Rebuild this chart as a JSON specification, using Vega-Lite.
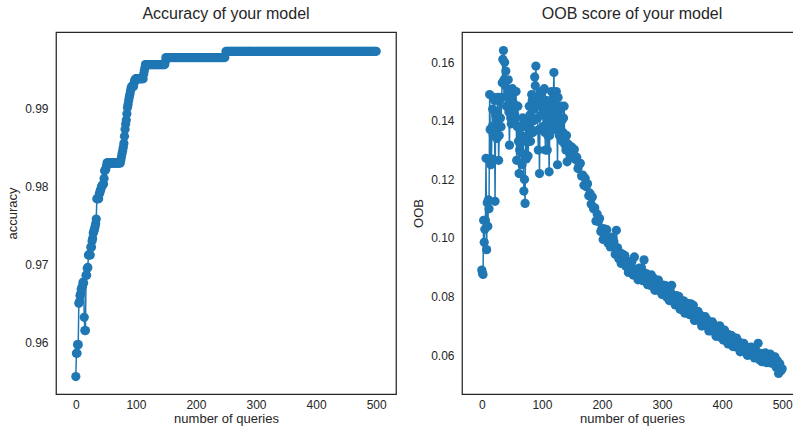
{
  "$schema": "https://vega.github.io/schema/vega-lite/v6.json",
  "padding": {"left": 6, "top": 5, "right": 0, "bottom": 0},
  "background": "white",
  "bounds": "flush",
  "spacing": 66,
  "data": {
    "values": [
      {"q": 0, "acc": 0.9556, "oob": 0.0890}, {"q": 1, "acc": 0.9586, "oob": 0.0880}, {"q": 2, "acc": 0.9586, "oob": 0.0875},
      {"q": 3, "acc": 0.9597, "oob": 0.1060}, {"q": 4, "acc": 0.9597, "oob": 0.0985}, {"q": 5, "acc": 0.9650, "oob": 0.1030},
      {"q": 6, "acc": 0.9652, "oob": 0.1060}, {"q": 7, "acc": 0.9660, "oob": 0.1272}, {"q": 8, "acc": 0.9662, "oob": 0.0960},
      {"q": 9, "acc": 0.9668, "oob": 0.1120}, {"q": 10, "acc": 0.9670, "oob": 0.1040}, {"q": 11, "acc": 0.9672, "oob": 0.1130},
      {"q": 12, "acc": 0.9677, "oob": 0.1100}, {"q": 13, "acc": 0.9676, "oob": 0.1490}, {"q": 14, "acc": 0.9632, "oob": 0.1370},
      {"q": 15, "acc": 0.9615, "oob": 0.1250}, {"q": 16, "acc": 0.9615, "oob": 0.1270}, {"q": 17, "acc": 0.9686, "oob": 0.1380},
      {"q": 18, "acc": 0.9686, "oob": 0.1440}, {"q": 19, "acc": 0.9695, "oob": 0.1350}, {"q": 20, "acc": 0.9696, "oob": 0.1480},
      {"q": 21, "acc": 0.9712, "oob": 0.1470}, {"q": 22, "acc": 0.9712, "oob": 0.1125}, {"q": 23, "acc": 0.9712, "oob": 0.1420},
      {"q": 24, "acc": 0.9712, "oob": 0.1410}, {"q": 25, "acc": 0.9722, "oob": 0.1340}, {"q": 26, "acc": 0.9722, "oob": 0.1470},
      {"q": 27, "acc": 0.9730, "oob": 0.1480}, {"q": 28, "acc": 0.9733, "oob": 0.1265}, {"q": 29, "acc": 0.9740, "oob": 0.1350},
      {"q": 30, "acc": 0.9742, "oob": 0.1470}, {"q": 31, "acc": 0.9745, "oob": 0.1410}, {"q": 32, "acc": 0.9748, "oob": 0.1380},
      {"q": 33, "acc": 0.9752, "oob": 0.1480}, {"q": 34, "acc": 0.9758, "oob": 0.1530}, {"q": 35, "acc": 0.9784, "oob": 0.1610},
      {"q": 36, "acc": 0.9784, "oob": 0.1640}, {"q": 37, "acc": 0.9784, "oob": 0.1540}, {"q": 38, "acc": 0.9784, "oob": 0.1600},
      {"q": 39, "acc": 0.9790, "oob": 0.1520}, {"q": 40, "acc": 0.9792, "oob": 0.1570}, {"q": 41, "acc": 0.9795, "oob": 0.1450},
      {"q": 42, "acc": 0.9797, "oob": 0.1480}, {"q": 43, "acc": 0.9800, "oob": 0.1500}, {"q": 44, "acc": 0.9801, "oob": 0.1540},
      {"q": 45, "acc": 0.9802, "oob": 0.1430}, {"q": 46, "acc": 0.9803, "oob": 0.1317}, {"q": 47, "acc": 0.9810, "oob": 0.1470},
      {"q": 48, "acc": 0.9820, "oob": 0.1410}, {"q": 49, "acc": 0.9821, "oob": 0.1390}, {"q": 50, "acc": 0.9822, "oob": 0.1490},
      {"q": 51, "acc": 0.9826, "oob": 0.1510}, {"q": 52, "acc": 0.9830, "oob": 0.1440}, {"q": 53, "acc": 0.9830, "oob": 0.1460},
      {"q": 54, "acc": 0.9830, "oob": 0.1500}, {"q": 55, "acc": 0.9830, "oob": 0.1420}, {"q": 56, "acc": 0.9830, "oob": 0.1390},
      {"q": 57, "acc": 0.9830, "oob": 0.1500}, {"q": 58, "acc": 0.9830, "oob": 0.1265}, {"q": 59, "acc": 0.9830, "oob": 0.1380},
      {"q": 60, "acc": 0.9830, "oob": 0.1450}, {"q": 61, "acc": 0.9830, "oob": 0.1330}, {"q": 62, "acc": 0.9830, "oob": 0.1220},
      {"q": 63, "acc": 0.9830, "oob": 0.1300}, {"q": 64, "acc": 0.9830, "oob": 0.1380}, {"q": 65, "acc": 0.9830, "oob": 0.1350},
      {"q": 66, "acc": 0.9830, "oob": 0.1290}, {"q": 67, "acc": 0.9830, "oob": 0.1250}, {"q": 68, "acc": 0.9830, "oob": 0.1410},
      {"q": 69, "acc": 0.9830, "oob": 0.1330}, {"q": 70, "acc": 0.9830, "oob": 0.1160}, {"q": 71, "acc": 0.9830, "oob": 0.1200},
      {"q": 72, "acc": 0.9830, "oob": 0.1118}, {"q": 73, "acc": 0.9830, "oob": 0.1380}, {"q": 74, "acc": 0.9830, "oob": 0.1270},
      {"q": 75, "acc": 0.9834, "oob": 0.1400}, {"q": 76, "acc": 0.9838, "oob": 0.1350}, {"q": 77, "acc": 0.9842, "oob": 0.1280},
      {"q": 78, "acc": 0.9846, "oob": 0.1330}, {"q": 79, "acc": 0.9850, "oob": 0.1450}, {"q": 80, "acc": 0.9855, "oob": 0.1420},
      {"q": 81, "acc": 0.9864, "oob": 0.1330}, {"q": 82, "acc": 0.9873, "oob": 0.1370}, {"q": 83, "acc": 0.9880, "oob": 0.1490},
      {"q": 84, "acc": 0.9885, "oob": 0.1470}, {"q": 85, "acc": 0.9893, "oob": 0.1360}, {"q": 86, "acc": 0.9901, "oob": 0.1400},
      {"q": 87, "acc": 0.9905, "oob": 0.1440}, {"q": 88, "acc": 0.9910, "oob": 0.1550}, {"q": 89, "acc": 0.9914, "oob": 0.1520},
      {"q": 90, "acc": 0.9918, "oob": 0.1587}, {"q": 91, "acc": 0.9922, "oob": 0.1480}, {"q": 92, "acc": 0.9926, "oob": 0.1450},
      {"q": 93, "acc": 0.9928, "oob": 0.1410}, {"q": 94, "acc": 0.9928, "oob": 0.1300}, {"q": 95, "acc": 0.9928, "oob": 0.1370},
      {"q": 96, "acc": 0.9928, "oob": 0.1220}, {"q": 97, "acc": 0.9932, "oob": 0.1460}, {"q": 98, "acc": 0.9936, "oob": 0.1500},
      {"q": 99, "acc": 0.9937, "oob": 0.1420}, {"q": 100, "acc": 0.9938, "oob": 0.1480}, {"q": 101, "acc": 0.9938, "oob": 0.1500},
      {"q": 102, "acc": 0.9938, "oob": 0.1380}, {"q": 103, "acc": 0.9938, "oob": 0.1430}, {"q": 104, "acc": 0.9938, "oob": 0.1510},
      {"q": 105, "acc": 0.9938, "oob": 0.1360}, {"q": 106, "acc": 0.9938, "oob": 0.1300}, {"q": 107, "acc": 0.9938, "oob": 0.1470},
      {"q": 108, "acc": 0.9938, "oob": 0.1440}, {"q": 109, "acc": 0.9938, "oob": 0.1300}, {"q": 110, "acc": 0.9938, "oob": 0.1350},
      {"q": 111, "acc": 0.9938, "oob": 0.1420}, {"q": 112, "acc": 0.9938, "oob": 0.1226}, {"q": 113, "acc": 0.9944, "oob": 0.1350},
      {"q": 114, "acc": 0.9948, "oob": 0.1400}, {"q": 115, "acc": 0.9952, "oob": 0.1460}, {"q": 116, "acc": 0.9956, "oob": 0.1500},
      {"q": 117, "acc": 0.9956, "oob": 0.1420}, {"q": 118, "acc": 0.9956, "oob": 0.1380}, {"q": 119, "acc": 0.9956, "oob": 0.1480},
      {"q": 120, "acc": 0.9956, "oob": 0.1565}, {"q": 121, "acc": 0.9956, "oob": 0.1450}, {"q": 122, "acc": 0.9956, "oob": 0.1400},
      {"q": 123, "acc": 0.9956, "oob": 0.1370}, {"q": 124, "acc": 0.9956, "oob": 0.1500}, {"q": 125, "acc": 0.9956, "oob": 0.1420},
      {"q": 126, "acc": 0.9956, "oob": 0.1250}, {"q": 127, "acc": 0.9956, "oob": 0.1480}, {"q": 128, "acc": 0.9956, "oob": 0.1440},
      {"q": 129, "acc": 0.9956, "oob": 0.1350}, {"q": 130, "acc": 0.9956, "oob": 0.1380}, {"q": 131, "acc": 0.9956, "oob": 0.1440},
      {"q": 132, "acc": 0.9956, "oob": 0.1450}, {"q": 133, "acc": 0.9956, "oob": 0.1400}, {"q": 134, "acc": 0.9956, "oob": 0.1330},
      {"q": 135, "acc": 0.9956, "oob": 0.1360}, {"q": 136, "acc": 0.9956, "oob": 0.1410}, {"q": 137, "acc": 0.9956, "oob": 0.1450},
      {"q": 138, "acc": 0.9956, "oob": 0.1320}, {"q": 139, "acc": 0.9956, "oob": 0.1330}, {"q": 140, "acc": 0.9956, "oob": 0.1300},
      {"q": 141, "acc": 0.9956, "oob": 0.1350}, {"q": 142, "acc": 0.9956, "oob": 0.1260}, {"q": 143, "acc": 0.9956, "oob": 0.1300},
      {"q": 144, "acc": 0.9956, "oob": 0.1320}, {"q": 145, "acc": 0.9956, "oob": 0.1310}, {"q": 146, "acc": 0.9956, "oob": 0.1290},
      {"q": 147, "acc": 0.9956, "oob": 0.1280}, {"q": 148, "acc": 0.9956, "oob": 0.1310}, {"q": 149, "acc": 0.9960, "oob": 0.1300},
      {"q": 150, "acc": 0.9965, "oob": 0.1310}, {"q": 152, "acc": 0.9965, "oob": 0.1276}, {"q": 154, "acc": 0.9965, "oob": 0.1302},
      {"q": 156, "acc": 0.9965, "oob": 0.1268}, {"q": 158, "acc": 0.9965, "oob": 0.1276}, {"q": 160, "acc": 0.9965, "oob": 0.1237},
      {"q": 162, "acc": 0.9965, "oob": 0.1250}, {"q": 164, "acc": 0.9965, "oob": 0.1255}, {"q": 166, "acc": 0.9965, "oob": 0.1212},
      {"q": 168, "acc": 0.9965, "oob": 0.1215}, {"q": 170, "acc": 0.9965, "oob": 0.1180}, {"q": 172, "acc": 0.9965, "oob": 0.1204},
      {"q": 174, "acc": 0.9965, "oob": 0.1175}, {"q": 176, "acc": 0.9965, "oob": 0.1185}, {"q": 178, "acc": 0.9965, "oob": 0.1144},
      {"q": 180, "acc": 0.9965, "oob": 0.1153}, {"q": 182, "acc": 0.9965, "oob": 0.1116}, {"q": 184, "acc": 0.9965, "oob": 0.1140},
      {"q": 186, "acc": 0.9965, "oob": 0.1100}, {"q": 188, "acc": 0.9965, "oob": 0.1103}, {"q": 190, "acc": 0.9965, "oob": 0.1058},
      {"q": 192, "acc": 0.9965, "oob": 0.1082}, {"q": 194, "acc": 0.9965, "oob": 0.1056}, {"q": 196, "acc": 0.9965, "oob": 0.1066},
      {"q": 198, "acc": 0.9965, "oob": 0.1022}, {"q": 200, "acc": 0.9965, "oob": 0.1032}, {"q": 202, "acc": 0.9965, "oob": 0.0995},
      {"q": 204, "acc": 0.9965, "oob": 0.1031}, {"q": 206, "acc": 0.9965, "oob": 0.1001}, {"q": 208, "acc": 0.9965, "oob": 0.1028},
      {"q": 210, "acc": 0.9965, "oob": 0.0983}, {"q": 212, "acc": 0.9965, "oob": 0.0999}, {"q": 214, "acc": 0.9965, "oob": 0.0969},
      {"q": 216, "acc": 0.9965, "oob": 0.1003}, {"q": 218, "acc": 0.9965, "oob": 0.0975}, {"q": 220, "acc": 0.9965, "oob": 0.0986},
      {"q": 222, "acc": 0.9965, "oob": 0.0944}, {"q": 224, "acc": 0.9965, "oob": 0.1026}, {"q": 226, "acc": 0.9965, "oob": 0.0966},
      {"q": 228, "acc": 0.9965, "oob": 0.0929}, {"q": 230, "acc": 0.9965, "oob": 0.0949}, {"q": 232, "acc": 0.9965, "oob": 0.0913},
      {"q": 234, "acc": 0.9965, "oob": 0.0945}, {"q": 236, "acc": 0.9965, "oob": 0.0918}, {"q": 238, "acc": 0.9965, "oob": 0.0940},
      {"q": 240, "acc": 0.9965, "oob": 0.0902}, {"q": 242, "acc": 0.9965, "oob": 0.0917}, {"q": 244, "acc": 0.9965, "oob": 0.0882},
      {"q": 246, "acc": 0.9965, "oob": 0.0920}, {"q": 248, "acc": 0.9965, "oob": 0.0895}, {"q": 250, "acc": 0.9973, "oob": 0.0921},
      {"q": 252, "acc": 0.9973, "oob": 0.0873}, {"q": 254, "acc": 0.9973, "oob": 0.0935}, {"q": 256, "acc": 0.9973, "oob": 0.0875},
      {"q": 258, "acc": 0.9973, "oob": 0.0891}, {"q": 260, "acc": 0.9973, "oob": 0.0857}, {"q": 262, "acc": 0.9973, "oob": 0.0897},
      {"q": 264, "acc": 0.9973, "oob": 0.0869}, {"q": 266, "acc": 0.9973, "oob": 0.0897}, {"q": 268, "acc": 0.9973, "oob": 0.0854},
      {"q": 270, "acc": 0.9973, "oob": 0.0925}, {"q": 272, "acc": 0.9973, "oob": 0.0855}, {"q": 274, "acc": 0.9973, "oob": 0.0878},
      {"q": 276, "acc": 0.9973, "oob": 0.0840}, {"q": 278, "acc": 0.9973, "oob": 0.0867}, {"q": 280, "acc": 0.9973, "oob": 0.0838},
      {"q": 282, "acc": 0.9973, "oob": 0.0874}, {"q": 284, "acc": 0.9973, "oob": 0.0842}, {"q": 286, "acc": 0.9973, "oob": 0.0863},
      {"q": 288, "acc": 0.9973, "oob": 0.0821}, {"q": 290, "acc": 0.9973, "oob": 0.0852}, {"q": 292, "acc": 0.9973, "oob": 0.0834},
      {"q": 294, "acc": 0.9973, "oob": 0.0856}, {"q": 296, "acc": 0.9973, "oob": 0.0819}, {"q": 298, "acc": 0.9973, "oob": 0.0838},
      {"q": 300, "acc": 0.9973, "oob": 0.0807}, {"q": 302, "acc": 0.9973, "oob": 0.0839}, {"q": 304, "acc": 0.9973, "oob": 0.0819},
      {"q": 306, "acc": 0.9973, "oob": 0.0837}, {"q": 308, "acc": 0.9973, "oob": 0.0797}, {"q": 310, "acc": 0.9973, "oob": 0.0817},
      {"q": 312, "acc": 0.9973, "oob": 0.0786}, {"q": 314, "acc": 0.9973, "oob": 0.0817}, {"q": 316, "acc": 0.9973, "oob": 0.0838},
      {"q": 318, "acc": 0.9973, "oob": 0.0784}, {"q": 320, "acc": 0.9973, "oob": 0.0803}, {"q": 322, "acc": 0.9973, "oob": 0.0771},
      {"q": 324, "acc": 0.9973, "oob": 0.0803}, {"q": 326, "acc": 0.9973, "oob": 0.0776}, {"q": 328, "acc": 0.9973, "oob": 0.0800},
      {"q": 330, "acc": 0.9973, "oob": 0.0756}, {"q": 332, "acc": 0.9973, "oob": 0.0778}, {"q": 334, "acc": 0.9973, "oob": 0.0758},
      {"q": 336, "acc": 0.9973, "oob": 0.0785}, {"q": 338, "acc": 0.9973, "oob": 0.0743}, {"q": 340, "acc": 0.9973, "oob": 0.0771},
      {"q": 342, "acc": 0.9973, "oob": 0.0755}, {"q": 344, "acc": 0.9973, "oob": 0.0776}, {"q": 346, "acc": 0.9973, "oob": 0.0738},
      {"q": 348, "acc": 0.9973, "oob": 0.0775}, {"q": 350, "acc": 0.9973, "oob": 0.0738}, {"q": 352, "acc": 0.9973, "oob": 0.0770},
      {"q": 354, "acc": 0.9973, "oob": 0.0718}, {"q": 356, "acc": 0.9973, "oob": 0.0742}, {"q": 358, "acc": 0.9973, "oob": 0.0720},
      {"q": 360, "acc": 0.9973, "oob": 0.0749}, {"q": 362, "acc": 0.9973, "oob": 0.0718}, {"q": 364, "acc": 0.9973, "oob": 0.0736},
      {"q": 366, "acc": 0.9973, "oob": 0.0699}, {"q": 368, "acc": 0.9973, "oob": 0.0723}, {"q": 370, "acc": 0.9973, "oob": 0.0701},
      {"q": 372, "acc": 0.9973, "oob": 0.0731}, {"q": 374, "acc": 0.9973, "oob": 0.0701}, {"q": 376, "acc": 0.9973, "oob": 0.0719},
      {"q": 378, "acc": 0.9973, "oob": 0.0682}, {"q": 380, "acc": 0.9973, "oob": 0.0706}, {"q": 382, "acc": 0.9973, "oob": 0.0682},
      {"q": 384, "acc": 0.9973, "oob": 0.0713}, {"q": 386, "acc": 0.9973, "oob": 0.0684}, {"q": 388, "acc": 0.9973, "oob": 0.0700},
      {"q": 390, "acc": 0.9973, "oob": 0.0664}, {"q": 392, "acc": 0.9973, "oob": 0.0698}, {"q": 394, "acc": 0.9973, "oob": 0.0671},
      {"q": 396, "acc": 0.9973, "oob": 0.0700}, {"q": 398, "acc": 0.9973, "oob": 0.0660}, {"q": 400, "acc": 0.9973, "oob": 0.0676},
      {"q": 402, "acc": 0.9973, "oob": 0.0651}, {"q": 404, "acc": 0.9973, "oob": 0.0685}, {"q": 406, "acc": 0.9973, "oob": 0.0657},
      {"q": 408, "acc": 0.9973, "oob": 0.0672}, {"q": 410, "acc": 0.9973, "oob": 0.0638}, {"q": 412, "acc": 0.9973, "oob": 0.0669},
      {"q": 414, "acc": 0.9973, "oob": 0.0649}, {"q": 416, "acc": 0.9973, "oob": 0.0666}, {"q": 418, "acc": 0.9973, "oob": 0.0629},
      {"q": 420, "acc": 0.9973, "oob": 0.0651}, {"q": 422, "acc": 0.9973, "oob": 0.0628}, {"q": 424, "acc": 0.9973, "oob": 0.0658},
      {"q": 426, "acc": 0.9973, "oob": 0.0627}, {"q": 428, "acc": 0.9973, "oob": 0.0645}, {"q": 430, "acc": 0.9973, "oob": 0.0611},
      {"q": 432, "acc": 0.9973, "oob": 0.0634}, {"q": 434, "acc": 0.9973, "oob": 0.0614}, {"q": 436, "acc": 0.9973, "oob": 0.0640},
      {"q": 438, "acc": 0.9973, "oob": 0.0615}, {"q": 440, "acc": 0.9973, "oob": 0.0628}, {"q": 442, "acc": 0.9973, "oob": 0.0599},
      {"q": 444, "acc": 0.9973, "oob": 0.0623}, {"q": 446, "acc": 0.9973, "oob": 0.0600}, {"q": 448, "acc": 0.9973, "oob": 0.0627},
      {"q": 450, "acc": 0.9973, "oob": 0.0601}, {"q": 452, "acc": 0.9973, "oob": 0.0613}, {"q": 454, "acc": 0.9973, "oob": 0.0590},
      {"q": 456, "acc": 0.9973, "oob": 0.0616}, {"q": 458, "acc": 0.9973, "oob": 0.0598}, {"q": 460, "acc": 0.9973, "oob": 0.0640},
      {"q": 462, "acc": 0.9973, "oob": 0.0584}, {"q": 464, "acc": 0.9973, "oob": 0.0606}, {"q": 466, "acc": 0.9973, "oob": 0.0577},
      {"q": 468, "acc": 0.9973, "oob": 0.0600}, {"q": 470, "acc": 0.9973, "oob": 0.0582}, {"q": 472, "acc": 0.9973, "oob": 0.0607},
      {"q": 474, "acc": 0.9973, "oob": 0.0574}, {"q": 476, "acc": 0.9973, "oob": 0.0595}, {"q": 478, "acc": 0.9973, "oob": 0.0578},
      {"q": 480, "acc": 0.9973, "oob": 0.0603}, {"q": 482, "acc": 0.9973, "oob": 0.0572}, {"q": 484, "acc": 0.9973, "oob": 0.0595},
      {"q": 486, "acc": 0.9973, "oob": 0.0575}, {"q": 488, "acc": 0.9973, "oob": 0.0594}, {"q": 490, "acc": 0.9973, "oob": 0.0558},
      {"q": 492, "acc": 0.9973, "oob": 0.0580}, {"q": 494, "acc": 0.9973, "oob": 0.0537}, {"q": 496, "acc": 0.9973, "oob": 0.0570},
      {"q": 498, "acc": 0.9973, "oob": 0.0546}, {"q": 500, "acc": 0.9973, "oob": 0.0553}
    ]
  },
  "config": {
    "font": "Liberation Sans",
    "view": {"stroke": "#262626", "strokeWidth": 1.25},
    "axis": {
      "domain": false,
      "ticks": false,
      "grid": false,
      "labelFontSize": 12,
      "labelColor": "#262626",
      "labelPadding": 8,
      "labelFlush": false,
      "titleFontSize": 13,
      "titleFontWeight": "normal",
      "titleColor": "#262626",
      "titlePadding": 5
    },
    "axisX": {"labelPadding": 5, "titlePadding": 2},
    "title": {"fontSize": 16, "fontWeight": "normal", "color": "#262626", "baseline": "alphabetic", "offset": 10}
  },
  "hconcat": [
    {
      "title": "Accuracy of your model",
      "width": 340,
      "height": 362,
      "mark": {"type": "line", "color": "#1f77b4", "strokeWidth": 1.5, "point": {"filled": true, "size": 85, "color": "#1f77b4", "opacity": 1}},
      "encoding": {
        "x": {"field": "q", "type": "quantitative", "scale": {"domain": [-33, 533], "nice": false, "zero": false},
              "axis": {"values": [0, 100, 200, 300, 400, 500], "title": "number of queries"}},
        "y": {"field": "acc", "type": "quantitative", "scale": {"domain": [0.95337, 0.99978], "nice": false, "zero": false},
              "axis": {"values": [0.96, 0.97, 0.98, 0.99], "format": ".2f", "title": "accuracy"}}
      }
    },
    {
      "title": "OOB score of your model",
      "width": 340,
      "height": 362,
      "mark": {"type": "line", "color": "#1f77b4", "strokeWidth": 1.5, "point": {"filled": true, "size": 85, "color": "#1f77b4", "opacity": 1}},
      "encoding": {
        "x": {"field": "q", "type": "quantitative", "scale": {"domain": [-33, 533], "nice": false, "zero": false},
              "axis": {"values": [0, 100, 200, 300, 400, 500], "title": "number of queries"}},
        "y": {"field": "oob", "type": "quantitative", "scale": {"domain": [0.04668, 0.17035], "nice": false, "zero": false},
              "axis": {"values": [0.06, 0.08, 0.10, 0.12, 0.14, 0.16], "format": ".2f", "title": "OOB"}}
      }
    }
  ]
}
